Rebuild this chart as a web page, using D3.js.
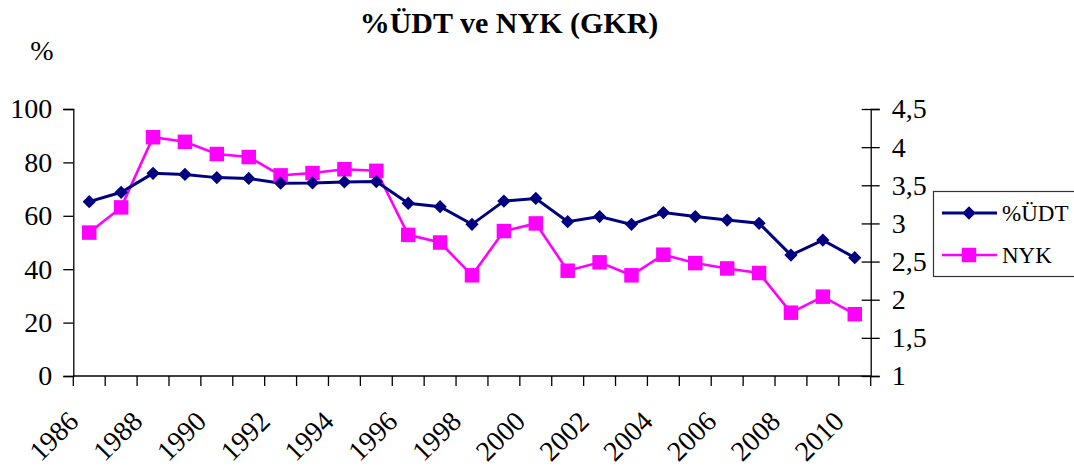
<!DOCTYPE html>
<html>
<head>
<meta charset="utf-8">
<script src="https://cdn.jsdelivr.net/npm/d3@7"></script>
<style>
  body { margin: 0; background: #fff; }
  text { font-family: "Liberation Serif", "Times New Roman", serif; }
</style>
</head>
<body>
<div id="vis"></div>
<script>
// chart data
var years = [1986, 1987, 1988, 1989, 1990, 1991, 1992, 1993, 1994, 1995, 1996, 1997, 1998,
  1999, 2000, 2001, 2002, 2003, 2004, 2005, 2006, 2007, 2008, 2009, 2010];
var udt = [65.3, 68.8, 75.9, 75.5, 74.3, 74.0, 72.2, 72.3, 72.7, 72.8, 64.7, 63.4, 56.8,
  65.5, 66.5, 57.8, 59.7, 56.8, 61.2, 59.7, 58.4, 57.2, 45.3, 50.9, 44.3];
var nyk = [2.88, 3.21, 4.13, 4.07, 3.91, 3.87, 3.63, 3.66, 3.71, 3.69, 2.85, 2.75, 2.32,
  2.90, 3.00, 2.38, 2.49, 2.32, 2.59, 2.48, 2.41, 2.35, 1.83, 2.04, 1.81];
var leftTicks = [0, 20, 40, 60, 80, 100];
var rightTicks = [1, 1.5, 2, 2.5, 3, 3.5, 4, 4.5];
var yearLabels = [1986, 1988, 1990, 1992, 1994, 1996, 1998, 2000, 2002, 2004, 2006, 2008, 2010];

var width = 1074, height = 469;
var plotLeft = 73.3, plotRight = 870.7, plotTop = 109, plotBottom = 376;
var NAVY = "#000080", MAGENTA = "#FF00FF";

var svg = d3.select("#vis").append("svg")
  .attr("width", width)
  .attr("height", height);

var x = d3.scaleBand().domain(years).range([plotLeft, plotRight]).padding(0);
var yL = d3.scaleLinear().domain([0, 100]).range([plotBottom, plotTop]);
var yR = d3.scaleLinear().domain([1, 4.5]).range([plotBottom, plotTop]);

function cx(d) { return x(d) + x.bandwidth() / 2; }

// title
svg.append("text")
  .attr("x", 509).attr("y", 33)
  .attr("text-anchor", "middle")
  .attr("font-weight", "bold")
  .attr("font-size", 30)
  .text("%ÜDT ve NYK (GKR)");

svg.append("text")
  .attr("x", 42).attr("y", 60)
  .attr("text-anchor", "middle")
  .attr("font-size", 28)
  .text("%");

// left axis
var gl = svg.append("g").attr("transform", "translate(" + plotLeft + ",0)")
  .call(d3.axisLeft(yL).tickValues(leftTicks).tickSize(10).tickPadding(11)
    .tickFormat(function (d) { return d; }));
gl.select(".domain").attr("stroke", "#000").attr("stroke-width", 1.3);
gl.selectAll("line").attr("stroke", "#000").attr("stroke-width", 1.3);
gl.selectAll("text").attr("font-size", 28).attr("fill", "#000")
  .style("font-family", "Liberation Serif");

// right axis, ticks cross the line
var gr = svg.append("g").attr("transform", "translate(" + plotRight + ",0)")
  .call(d3.axisRight(yR).tickValues(rightTicks).tickSize(9).tickPadding(12)
    .tickFormat(function (d) { return String(d).replace(".", ","); }));
gr.select(".domain").attr("stroke", "#000").attr("stroke-width", 1.3);
gr.selectAll(".tick line").attr("x1", -9).attr("stroke", "#000").attr("stroke-width", 1.3);
gr.selectAll("text").attr("font-size", 28).attr("fill", "#000")
  .style("font-family", "Liberation Serif");

// x axis
svg.append("line")
  .attr("x1", plotLeft).attr("x2", plotRight)
  .attr("y1", plotBottom).attr("y2", plotBottom)
  .attr("stroke", "#000").attr("stroke-width", 1.3);

var edges = d3.range(years.length + 1);
var xEdge = d3.scaleLinear().domain([0, years.length]).range([plotLeft, plotRight]);
svg.selectAll(".xtick").data(edges).enter().append("line")
  .attr("class", "xtick")
  .attr("x1", function (d) { return xEdge(d); })
  .attr("x2", function (d) { return xEdge(d); })
  .attr("y1", plotBottom).attr("y2", plotBottom + 10)
  .attr("stroke", "#000").attr("stroke-width", 1.3);

svg.selectAll(".xlab").data(yearLabels).enter().append("text")
  .attr("class", "xlab")
  .attr("text-anchor", "end")
  .attr("font-size", 28)
  .attr("transform", function (d) {
    return "translate(" + (cx(d) - 9) + ",423) rotate(-45)";
  })
  .text(function (d) { return d; });

// lines
var lineL = d3.line().x(function (d, i) { return cx(years[i]); }).y(function (d) { return yL(d); });
var lineR = d3.line().x(function (d, i) { return cx(years[i]); }).y(function (d) { return yR(d); });

svg.append("path").datum(nyk)
  .attr("d", lineR).attr("fill", "none")
  .attr("stroke", MAGENTA).attr("stroke-width", 2.6);

svg.append("path").datum(udt)
  .attr("d", lineL).attr("fill", "none")
  .attr("stroke", NAVY).attr("stroke-width", 3);

var diamond = d3.symbol().type(d3.symbolSquare).size(88);
var square = d3.symbol().type(d3.symbolSquare).size(210);

svg.selectAll(".sq").data(nyk).enter().append("path")
  .attr("class", "sq")
  .attr("d", square)
  .attr("fill", MAGENTA)
  .attr("transform", function (d, i) { return "translate(" + cx(years[i]) + "," + yR(d) + ")"; });

svg.selectAll(".dm").data(udt).enter().append("path")
  .attr("class", "dm")
  .attr("d", diamond)
  .attr("fill", NAVY)
  .attr("transform", function (d, i) { return "translate(" + cx(years[i]) + "," + yL(d) + ") rotate(45)"; });

// legend
var lg = svg.append("g");
lg.append("rect")
  .attr("x", 933.5).attr("y", 191.5)
  .attr("width", 160).attr("height", 85)
  .attr("fill", "#fff").attr("stroke", "#333").attr("stroke-width", 1.2);

var items = [
  { name: "%ÜDT", color: NAVY, sym: diamond, rot: 45, y: 213, w: 3 },
  { name: "NYK", color: MAGENTA, sym: square, rot: 0, y: 255, w: 2.6 }
];
items.forEach(function (it) {
  lg.append("line")
    .attr("x1", 942).attr("x2", 997)
    .attr("y1", it.y).attr("y2", it.y)
    .attr("stroke", it.color).attr("stroke-width", it.w);
  lg.append("path")
    .attr("d", it.sym)
    .attr("fill", it.color)
    .attr("transform", "translate(969," + it.y + ") rotate(" + it.rot + ")");
  lg.append("text")
    .attr("x", 1002).attr("y", it.y + 8)
    .attr("font-size", 23)
    .text(it.name);
});
</script>
</body>
</html>
